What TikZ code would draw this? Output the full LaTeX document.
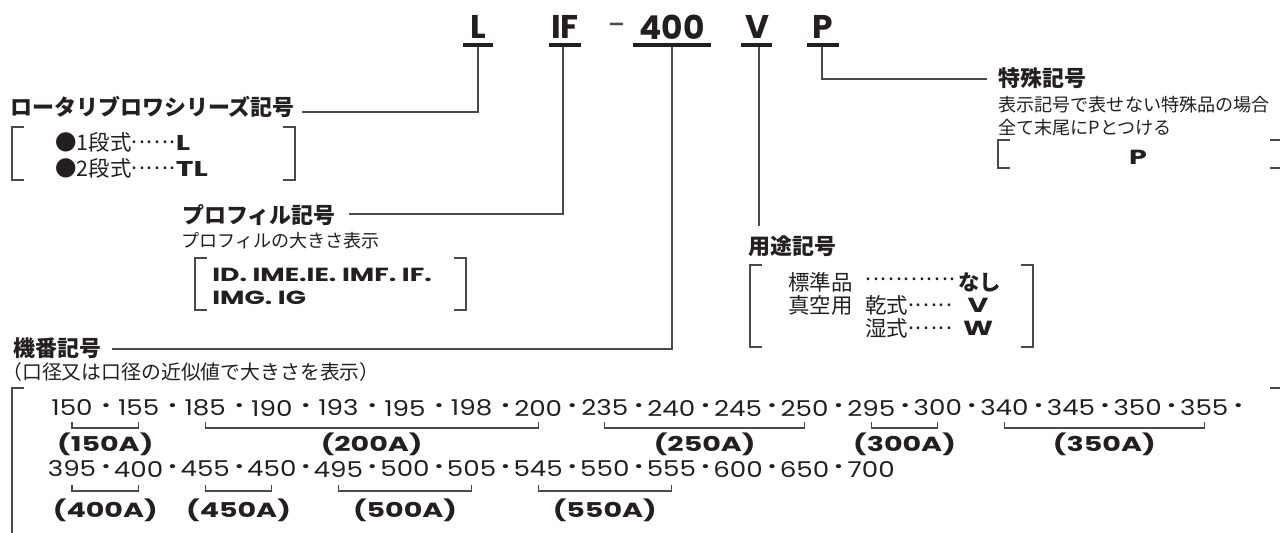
\documentclass[tikz,border=0pt]{standalone}
\usepackage{fontspec}
\setmainfont{Noto Sans CJK JP}
\newfontfamily\latfont{Poppins}
\newfontfamily\numfont{Poppins}[FakeStretch=1.2]
\newfontfamily\labfont{Poppins}[FakeStretch=1.4]
\usetikzlibrary{positioning}
\definecolor{ink}{HTML}{231F20}
\definecolor{rule}{HTML}{4A4A4A}
\tikzset{
  code/.style={font=\latfont\bfseries\fontsize{18.7}{20}\selectfont, text=ink, inner sep=0pt},
  ul/.style={draw=ink, line width=2.6pt},
  conn/.style={draw=rule, line width=0.7pt},
  brk/.style={draw=rule, line width=0.7pt},
  hd/.style={font=\bfseries\fontsize{12.5}{14}\selectfont, text=ink, anchor=west, inner sep=0pt},
  sub/.style={font=\fontsize{10.3}{12}\selectfont, text=ink, anchor=west, inner sep=0pt},
  item/.style={font=\fontsize{12.2}{13}\selectfont, text=ink, anchor=west, inner sep=0pt},
  num/.style={font=\numfont\fontsize{12.4}{14}\selectfont, text=ink, inner sep=0pt},
  lab/.style={font=\labfont\bfseries\fontsize{11.6}{13}\selectfont, text=ink, inner sep=0pt},
}
\newcommand{\kb}[1]{{\labfont\bfseries #1}}
\newcommand{\ten}[1]{\raisebox{0.3em}{\addfontfeature{LetterSpace=8}#1}}
\begin{document}
\begin{tikzpicture}[x=0.02cm, y=-0.02cm]
\useasboundingbox (0,0) rectangle (1280,532);
\clip (0,0) rectangle (1280,532);

\node[code] (cL) at (478,27) {L};
\node[code] (cIF) at (565,27) {IF};
\node[code, font=\latfont\fontsize{18.7}{20}\selectfont, text=rule] (cDash) at (618,30) {-};
\node[code] (c400) at (672,27) {400};
\node[code] (cV) at (757,27) {V};
\node[code] (cP) at (823,27) {P};
\draw[ul] (463,45) -- (493,45);
\draw[ul] (549,45) -- (581,45);
\draw[ul] (633,45) -- (711,45);
\draw[ul] (741,45) -- (772,45);
\draw[ul] (807,45) -- (839,45);

\node[hd] (hdSer) at (10,107) {ロータリブロワシリーズ記号};
\node[item] (itSer1) at (55,142) {●1段式\ten{......}\kb{L}};
\node[item] (itSer2) at (55,168) {●2段式\ten{......}\kb{TL}};

\node[hd] (hdPro) at (182,215) {プロフィル記号};
\node[sub] (sbPro) at (181,241) {プロフィルの大きさ表示};
\node[lab, anchor=west, font=\labfont\bfseries\fontsize{10.8}{12}\selectfont] (itPro1) at (212,275) {ID. IME.IE. IMF. IF.};
\node[lab, anchor=west, font=\labfont\bfseries\fontsize{10.8}{12}\selectfont] (itPro2) at (212,298) {IMG. IG};

\node[hd] (hdMod) at (13,348) {機番記号};
\node[sub, font=\fontsize{11.3}{13}\selectfont] (sbMod) at (2,372) {（口径又は口径の近似値で大きさを表示）};

\node[hd] (hdUse) at (748,246) {用途記号};
\node[item] (itUse1) at (788,282) {標準品};
\node[item] (dtUse1) at (865,282) {\ten{............}};
\node[item] (vlUse1) at (958,282) {\bfseries なし};
\node[item] (itUse2) at (788,305) {真空用};
\node[item] (dtUse2) at (865,305) {乾式\ten{......}};
\node[lab] (vlUse2) at (978,305) {V};
\node[item] (dtUse3) at (865,328) {湿式\ten{......}};
\node[lab] (vlUse3) at (978,328) {W};

\node[hd] (hdSpc) at (998,78) {特殊記号};
\node[sub] (sbSpc1) at (998,105) {表示記号で表せない特殊品の場合};
\node[sub] (sbSpc2) at (998,128) {全て末尾にPとつける};
\node[lab] (vlSpc) at (1138,157) {P};

\coordinate (uL) at (478,47);
\coordinate (eSer) at (302,112);
\coordinate (uIF) at (563,47);
\coordinate (ePro) at (349,214);
\coordinate (u400) at (672,47);
\coordinate (eMod) at (112,349);
\coordinate (uV) at (759,47);
\coordinate (eUse) at (759,226);
\coordinate (uP) at (822,47);
\coordinate (eSpc) at (987,79);
\draw[conn] (uL) |- (eSer);
\draw[conn] (uIF) |- (ePro);
\draw[conn] (u400) |- (eMod);
\draw[conn] (uV) -- (eUse);
\draw[conn] (uP) |- (eSpc);

\foreach \xa/\xb/\ya/\yb in {12/295/127/180, 195/466/258/310, 750/1033/265/347, 998/1282/140/168, 12/1282/388/545}{
  \draw[brk] (\xa+12,\ya) -- (\xa,\ya) -- (\xa,\yb) -- (\xa+12,\yb);
  \draw[brk] (\xb-12,\ya) -- (\xb,\ya) -- (\xb,\yb) -- (\xb-12,\yb);
}

\foreach \n [count=\i from 0] in {150,155,185,190,193,195,198,200,235,240,245,250,295,300,340,345,350,355}
  \node[num] (a\i) at ({72+66.6*\i},408) {\n};
\foreach \i in {0,...,17}
  \node[num, font=\numfont\bfseries\fontsize{12.4}{14}\selectfont] (ad\i) at ({106+66.6*\i},408) {·};
\foreach \s/\e/\t in {0/1/150A,2/7/200A,8/11/250A,12/13/300A,14/17/350A}{
  \draw[brk] (a\s |- 0,422) -- (a\s |- 0,428) -- (a\e |- 0,428) -- (a\e |- 0,422);
  \node[lab] (la\s) at ({72+33.3*(\s+\e)},444) {(\t)};
}

\foreach \n [count=\i from 0] in {395,400,455,450,495,500,505,545,550,555,600,650,700}
  \node[num] (b\i) at ({72+66.6*\i},469) {\n};
\foreach \i in {0,...,11}
  \node[num, font=\numfont\bfseries\fontsize{12.4}{14}\selectfont] (bd\i) at ({106+66.6*\i},469) {·};
\foreach \s/\e/\t in {0/1/400A,2/3/450A,4/6/500A,7/9/550A}{
  \draw[brk] (b\s |- 0,485) -- (b\s |- 0,491) -- (b\e |- 0,491) -- (b\e |- 0,485);
  \node[lab] (lb\s) at ({72+33.3*(\s+\e)},510) {(\t)};
}
\end{tikzpicture}
\end{document}
